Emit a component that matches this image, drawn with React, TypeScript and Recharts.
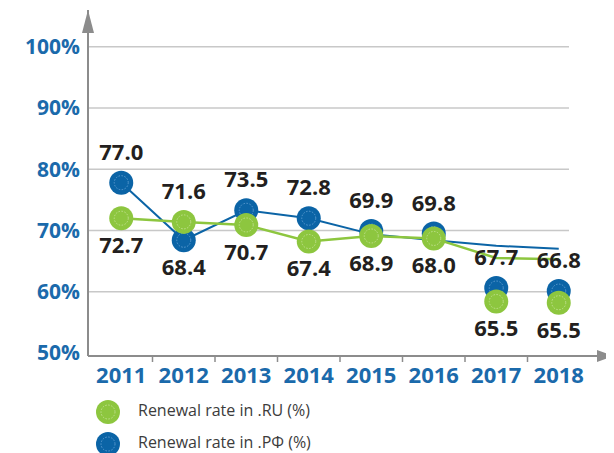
import React from "react";
import { LineChart, Line, XAxis, YAxis, CartesianGrid, LabelList } from "recharts";

const years = ["2011", "2012", "2013", "2014", "2015", "2016", "2017", "2018"];
// lines (.РФ blue, .RU green)
const rfLine = [77.8, 68.4, 73.3, 72.0, 69.4, 68.4, 67.5, 67.0];
const ruLine = [72.0, 71.4, 70.9, 68.2, 69.1, 68.7, 65.5, 65.3];
// markers as placed in the picture (2017/2018 sit below the lines)
const rfDots = [77.8, 68.4, 73.3, 72.0, 69.9, 69.5, 60.6, 60.1];
const ruDots = [72.0, 71.4, 70.9, 68.2, 69.1, 68.7, 58.4, 58.2];
// printed values
const rfLabels = [77.0, 68.4, 73.5, 72.8, 69.9, 69.8, 67.7, 66.8];
const ruLabels = [72.7, 71.6, 70.7, 67.4, 68.9, 68.0, 65.5, 65.5];
const yTicks = [50, 60, 70, 80, 90, 100];

const data = years.map((year, i) => ({
  year,
  rfLine: rfLine[i],
  ruLine: ruLine[i],
  rfDot: rfDots[i],
  ruDot: ruDots[i],
  rfLabel: rfLabels[i],
  ruLabel: ruLabels[i],
}));

const BLUE = "#0b64a6";
const BLUE_RING = "#5b9bd0";
const GREEN = "#8dc63f";
const GREEN_RING = "#c0e08e";
const TICK_BLUE = "#1b6aab";
const AXIS = "#8c8c8c";
const FONT = "'Open Sans', sans-serif";

function Marker({ cx, cy, fill, ring }: { cx: number; cy: number; fill: string; ring: string }) {
  return (
    <g>
      <circle cx={cx} cy={cy} r={12} fill={fill} />
      <circle cx={cx} cy={cy} r={7} fill="none" stroke={ring} strokeWidth={1} strokeDasharray="1.5 1.5" />
    </g>
  );
}

const dotRenderer = (fill: string, ring: string) => (props: any) => {
  const { cx, cy, index } = props;
  if (cx == null || cy == null) return <g key={index} />;
  return <Marker key={index} cx={cx} cy={cy} fill={fill} ring={ring} />;
};

// label goes above the higher marker of the pair, below the lower one
const labelRenderer = (series: "rf" | "ru") => (props: any) => {
  const { x, y, index } = props;
  const mine = series === "rf" ? rfDots[index] : ruDots[index];
  const other = series === "rf" ? ruDots[index] : rfDots[index];
  const text = (series === "rf" ? rfLabels : ruLabels)[index].toFixed(1);
  const above = mine >= other;
  return (
    <text
      x={x}
      y={above ? y - 23 : y + 35}
      textAnchor="middle"
      fill="#231f20"
      fontSize={22}
      fontWeight={700}
      fontFamily={FONT}
    >
      {text}
    </text>
  );
};

function YearTick(props: any) {
  const { x, y, payload, index } = props;
  const half = payload?.offset || 31.25;
  return (
    <g>
      {index < years.length - 1 && (
        <line x1={x + half} x2={x + half} y1={y} y2={y + 6} stroke={AXIS} strokeWidth={1.5} />
      )}
      <text x={x} y={y + 27} textAnchor="middle" fill={TICK_BLUE} fontSize={22} fontWeight={700} fontFamily={FONT}>
        {payload.value}
      </text>
    </g>
  );
}

function GridLine(props: any) {
  const { x1, x2, y1, y2, index } = props;
  return <line key={index} x1={x1} x2={x2 - 21} y1={y1} y2={y2} stroke="#c8c8c8" strokeWidth={1.5} />;
}

function LegendRow({ fill, ring, label }: { fill: string; ring: string; label: string }) {
  return (
    <div style={{ display: "flex", alignItems: "center", height: 32 }}>
      <svg width={26} height={26} style={{ overflow: "visible" }}>
        <Marker cx={13} cy={13} fill={fill} ring={ring} />
      </svg>
      <span style={{ marginLeft: 17, fontSize: 16, lineHeight: "18px", color: "#3c3c3c", fontFamily: FONT, position: "relative", top: -2 }}>
        {label}
      </span>
    </div>
  );
}

export default function App() {
  return (
    <div style={{ position: "relative", width: 606, height: 445, fontFamily: FONT }}>
      <LineChart width={606} height={392} data={data} margin={{ top: 2, right: 24, bottom: 0, left: 0 }}>
        <defs>
          <marker id="arrowY" viewBox="0 0 23 12" refX={23} refY={6} markerWidth={23} markerHeight={12}
            markerUnits="userSpaceOnUse" orient="auto-start-reverse">
            <path d="M0,0 L23,6 L0,12 z" fill={AXIS} />
          </marker>
          <marker id="arrowX" viewBox="0 0 24 12" refX={0} refY={6} markerWidth={24} markerHeight={12}
            markerUnits="userSpaceOnUse" orient="auto">
            <path d="M0,5 L7,5 L7,0 L24,6 L7,12 L7,7 L0,7 z" fill={AXIS} />
          </marker>
        </defs>
        <CartesianGrid vertical={false} horizontal={GridLine} horizontalValues={[60, 70, 80, 90, 100]} />
        <XAxis
          dataKey="year"
          scale="band"
          height={44}
          padding={{ left: 2, right: 0 }}
          axisLine={{ stroke: AXIS, strokeWidth: 2, markerEnd: "url(#arrowX)" }}
          tickLine={false}
          tickSize={0}
          tickMargin={0}
          interval={0}
          tick={<YearTick />}
        />
        <YAxis
          type="number"
          domain={[49.5, 106]}
          ticks={yTicks}
          width={80}
          axisLine={{ stroke: AXIS, strokeWidth: 2, markerStart: "url(#arrowY)" }}
          tickLine={false}
          tickFormatter={(v: number) => `${v}%`}
          tick={{ fill: TICK_BLUE, fontSize: 21, fontWeight: 700, fontFamily: FONT }}
        />
        <Line dataKey="rfLine" stroke={BLUE} strokeWidth={2} dot={false} activeDot={false} isAnimationActive={false} />
        <Line dataKey="ruLine" stroke={GREEN} strokeWidth={2.5} dot={false} activeDot={false} isAnimationActive={false} />
        <Line dataKey="rfDot" stroke="none" dot={dotRenderer(BLUE, BLUE_RING)} activeDot={false} isAnimationActive={false}>
          <LabelList dataKey="rfLabel" content={labelRenderer("rf")} />
        </Line>
        <Line dataKey="ruDot" stroke="none" dot={dotRenderer(GREEN, GREEN_RING)} activeDot={false} isAnimationActive={false}>
          <LabelList dataKey="ruLabel" content={labelRenderer("ru")} />
        </Line>
      </LineChart>
      <div style={{ position: "absolute", left: 87, top: 388 }}>
        <LegendRow fill={GREEN} ring={GREEN_RING} label="Renewal rate in .RU (%)" />
        <LegendRow fill={BLUE} ring={BLUE_RING} label="Renewal rate in .РФ (%)" />
      </div>
    </div>
  );
}
